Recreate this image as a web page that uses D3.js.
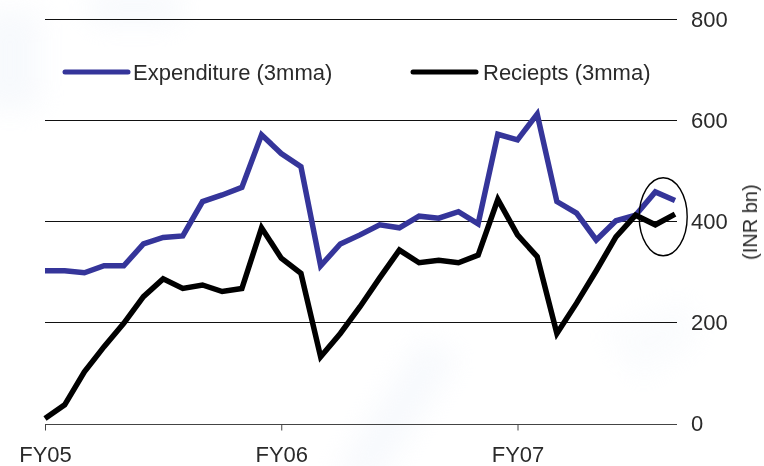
<!DOCTYPE html>
<html>
<head>
<meta charset="utf-8">
<script src="https://cdn.jsdelivr.net/npm/d3@7/dist/d3.min.js"></script>
<style>
  html, body { margin: 0; padding: 0; background: #fff; }
  svg { display: block; font-family: "Liberation Sans", Arial, sans-serif; }
</style>
</head>
<body>
<svg id="chart" width="764" height="466"></svg>
<script>
// Monthly points, Apr 2004 (start of FY05) to Dec 2006, 3-month moving averages, INR bn
const months = d3.range(33);
const expenditure = [302, 302, 298, 312, 312, 355, 368, 371, 439, 452, 467, 571,
                     534, 508, 312, 355, 373, 393, 387, 410, 406, 419, 395, 572,
                     561, 612, 439, 416, 363, 401, 412, 458, 441];
const receipts    = [10, 37, 102, 152, 198, 251, 286, 267, 274, 261, 267, 387,
                     327, 297, 132, 178, 231, 288, 343, 318, 323, 318, 333, 443,
                     373, 330, 178, 238, 302, 369, 412, 393, 414];
const yTicks = [0, 200, 400, 600, 800];
const fyTicks = [0, 12, 24];
const fyLabels = ["FY05", "FY06", "FY07"];
const seriesNames = ["Expenditure (3mma)", "Reciepts (3mma)"];
const seriesColors = ["#35359a", "#000000"];
const unitLabel = "(INR bn)";
// Ring around the latest months
const ringCenter = { month: 31.4, value: 409 };

const svg = d3.select("#chart");
const x = d3.scaleLinear().domain([0, 32]).range([45, 675]);
const y = d3.scaleLinear().domain([0, 800]).range([423.5, 19]);

// faint background haze
const defs = svg.append("defs");
defs.append("filter").attr("id", "soft").attr("x", "-50%").attr("y", "-50%")
  .attr("width", "200%").attr("height", "200%")
  .append("feGaussianBlur").attr("stdDeviation", 14);
const haze = svg.append("g").attr("filter", "url(#soft)").attr("fill", "#eef3fa").attr("opacity", 0.45);
haze.append("rect").attr("x", -20).attr("y", 10).attr("width", 60).attr("height", 100);
haze.append("rect").attr("x", 90).attr("y", -10).attr("width", 90).attr("height", 35);
haze.append("path").attr("d", "M330,480 L420,340 L460,355 L380,480 Z");
haze.append("path").attr("d", "M600,330 L690,300 L700,340 L640,380 Z").attr("opacity", 0.6);

// horizontal gridlines
svg.append("g").selectAll("line").data(yTicks).join("line")
  .attr("x1", 45).attr("x2", 677)
  .attr("y1", d => Math.round(y(d)) + 0.5).attr("y2", d => Math.round(y(d)) + 0.5)
  .attr("stroke", d => d === 0 ? "#444" : "#111").attr("stroke-width", 1);

// right-hand value labels
svg.append("g").selectAll("text").data(yTicks).join("text")
  .attr("x", 691).attr("y", d => y(d)).attr("dy", "0.36em")
  .attr("font-size", 22).attr("fill", "#2a2a2a")
  .text(d => d);

svg.append("text")
  .attr("transform", `translate(757,${y(400) + 1}) rotate(-90)`)
  .attr("text-anchor", "middle").attr("font-size", 20).attr("fill", "#2a2a2a")
  .text(unitLabel);

// fiscal-year ticks and labels
const xAxis = d3.axisBottom(x).tickValues(fyTicks).tickSize(6).tickFormat((d, i) => fyLabels[i]);
const gx = svg.append("g").attr("transform", `translate(0,${Math.round(y(0)) + 0.5})`).call(xAxis);
gx.select(".domain").remove();
gx.selectAll(".tick line").attr("stroke", "#444");
gx.selectAll(".tick text").attr("font-size", 22).attr("fill", "#2a2a2a")
  .attr("font-family", "Liberation Sans, Arial, sans-serif").attr("y", 22).attr("dy", "0.71em");

// series lines
const line = d3.line().x((d, i) => x(months[i])).y(d => y(d));
[expenditure, receipts].forEach((vals, k) => {
  svg.append("path").datum(vals)
    .attr("d", line)
    .attr("fill", "none")
    .attr("stroke", seriesColors[k])
    .attr("stroke-width", 5.5)
    .attr("stroke-linejoin", "miter")
    .attr("stroke-miterlimit", 3);
});

// ring annotation
svg.append("ellipse")
  .attr("cx", x(ringCenter.month)).attr("cy", y(ringCenter.value))
  .attr("rx", 24).attr("ry", 39)
  .attr("fill", "none").attr("stroke", "#000").attr("stroke-width", 1.4);

// legend
const legendX = [65, 413];
const lg = svg.append("g").selectAll("g").data(seriesNames).join("g")
  .attr("transform", (d, i) => `translate(${legendX[i]},72)`);
lg.append("line").attr("x1", 0).attr("x2", 63).attr("y1", 0).attr("y2", 0)
  .attr("stroke", (d, i) => seriesColors[i]).attr("stroke-width", 5).attr("stroke-linecap", "round");
lg.append("text").attr("x", (d, i) => i === 0 ? 68 : 70).attr("y", 0).attr("dy", "0.36em")
  .attr("font-size", 22).attr("fill", "#2a2a2a")
  .text(d => d);
</script>
</body>
</html>
